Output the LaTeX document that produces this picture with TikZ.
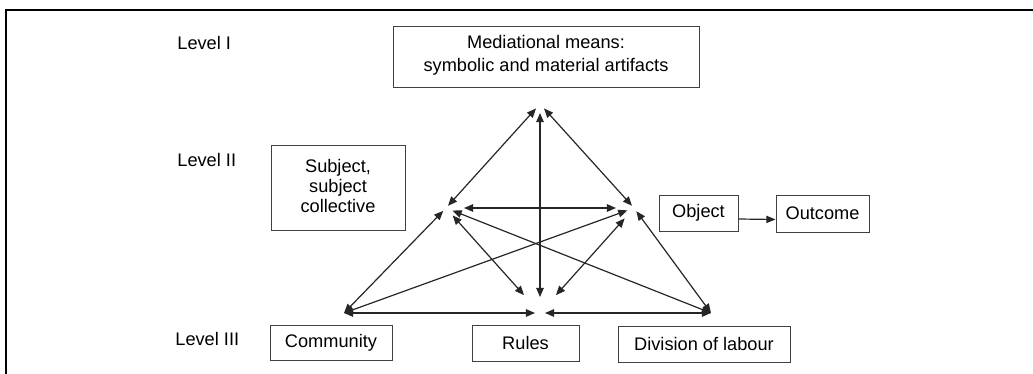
\documentclass[tikz,border=0pt]{standalone}
\usepackage{fontspec}
\setmainfont{Liberation Sans}
\usetikzlibrary{arrows.meta}
\begin{document}
\begin{tikzpicture}[x=0.5pt,y=-0.5pt,
  box/.style={draw=black!75, line width=0.5pt, align=center, inner sep=0pt},
  lvl/.style={anchor=west, inner sep=0pt},
  link/.style={draw=black!85, line width=0.6pt,
    {Triangle[length=4.6pt,width=3.8pt]}-{Triangle[length=4.6pt,width=3.8pt]}},
  oneway/.style={draw=black!85, line width=0.6pt, -{Triangle[length=4.6pt,width=3.6pt]}}]
\fontsize{9.1}{11.5}\selectfont
\useasboundingbox (0,0) rectangle (1033,374);
\draw[line width=1.2pt] (1033,10) -- (6,10) -- (6,374);
\begin{scope}
\path (177,43)  node[lvl] (lv1) {Level I};
\path (177,160) node[lvl] (lv2) {Level II};
\path (175,339) node[lvl] (lv3) {Level III};
\path (546,57.5) node[box, minimum width=153pt, minimum height=30.5pt, text depth=4pt] (med)
  {Mediational means:\\[-0.3pt] symbolic and material artifacts};
\path (338,188) node[box, minimum width=67pt, minimum height=42pt, text depth=2pt,
  font=\fontsize{9.1}{9.8}\selectfont] (subj) {Subject,\\ subject\\ collective};
\path (698.5,213) node[box, minimum width=39.5pt, minimum height=18pt] (obj) {Object};
\path (822.5,213.5) node[box, minimum width=46.5pt, minimum height=18.5pt] (out) {Outcome};
\path (331,342.5) node[box, minimum width=61pt, minimum height=17.5pt] (comm) {Community};
\path (525.5,343) node[box, minimum width=53.5pt, minimum height=18pt] (rules) {Rules};
\path (704,344) node[box, minimum width=86pt, minimum height=18pt] (div) {Division of labour};
\end{scope}
\coordinate (M) at (540,104);
\coordinate (S) at (446,208);
\coordinate (O) at (634,208);
\coordinate (C) at (344,313);
\coordinate (R) at (540,313);
\coordinate (D) at (711,313);
\draw[link, shorten <=1.5pt, shorten >=3pt] (S) -- (M);
\draw[link, shorten <=1.5pt, shorten >=3pt] (O) -- (M);
\draw[link, shorten <=8pt, shorten >=4.5pt] (R) -- (M);
\draw[link, shorten <=9pt, shorten >=9pt] (S) -- (O);
\draw[link, shorten <=0pt, shorten >=2pt] (C) -- (S);
\draw[link, shorten <=5pt, shorten >=12pt] (S) -- (R);
\draw[link, shorten <=3.5pt, shorten >=0pt] (S) -- (D);
\draw[link, shorten <=0pt, shorten >=3.5pt] (C) -- (O);
\draw[link, shorten <=7pt, shorten >=12pt] (O) -- (R);
\draw[link, shorten <=2pt, shorten >=0pt] (O) -- (D);
\draw[link, shorten <=0pt, shorten >=2.5pt] (C) -- (R);
\draw[link, shorten <=0pt, shorten >=2.5pt] (D) -- (R);
\draw[oneway] ([yshift=-3pt]obj.east) -- ([yshift=-3pt]out.west);
\end{tikzpicture}
\end{document}
